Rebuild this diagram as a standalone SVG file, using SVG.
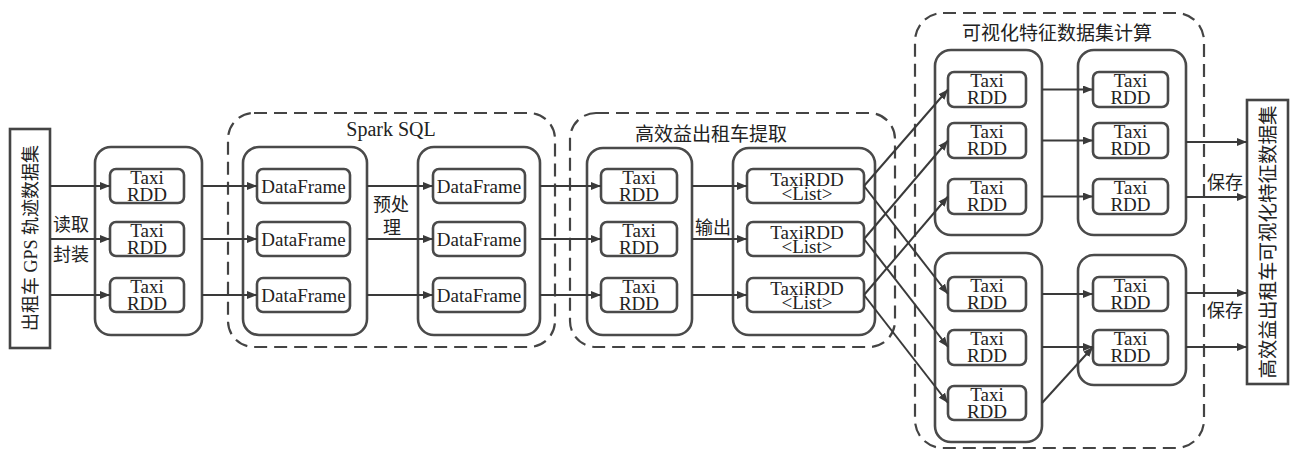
<svg xmlns="http://www.w3.org/2000/svg" width="1290" height="450" viewBox="0 0 1290 450">
<style>
.bg{fill:#ffffff}
.dash{fill:none;stroke:#444;stroke-width:2.2;stroke-dasharray:13 7}
.outer{fill:none;stroke:#4a4a4a;stroke-width:2.6}
.inner{fill:#fff;stroke:#4a4a4a;stroke-width:2.6}
.io{fill:#fff;stroke:#444;stroke-width:2.6}
.t{font-family:"Liberation Serif","Noto Sans CJK SC",serif;font-size:19px;fill:#222;text-anchor:middle}
.c{font-family:"Liberation Serif","Noto Sans CJK SC",serif;font-size:18px;fill:#222;text-anchor:middle}
.ttl{font-family:"Liberation Serif","Noto Sans CJK SC",serif;font-size:19px;fill:#222;text-anchor:middle}
.e{fill:none;stroke:#3a3a3a;stroke-width:2;marker-end:url(#ah)}
</style>
<defs>
<marker id="ah" markerUnits="userSpaceOnUse" markerWidth="10" markerHeight="8" refX="10" refY="4" orient="auto">
<path d="M0,0 L10,4 L0,8 z" fill="#3a3a3a"/>
</marker>
</defs>
<rect class="bg" x="0" y="0" width="1290" height="450"/>

<!-- dashed containers -->
<g id="spark-sql">
<rect class="dash" x="228" y="113" width="327" height="234" rx="26"/>
<text class="ttl" x="391" y="136" style="font-size:20px">Spark SQL</text>
</g>
<g id="extract">
<rect class="dash" x="570" y="113" width="325" height="234" rx="26"/>
<text class="ttl" x="711" y="141">高效益出租车提取</text>
</g>
<g id="visual">
<rect class="dash" x="915" y="13" width="289" height="435" rx="28"/>
<text class="ttl" x="1057" y="40">可视化特征数据集计算</text>
</g>

<!-- source / sink -->
<g id="source">
<rect class="io" x="10" y="129" width="40" height="219"/>
<text class="c" transform="translate(31,238) rotate(-90)" dominant-baseline="central">出租车 GPS 轨迹数据集</text>
</g>
<g id="sink">
<rect class="io" x="1247" y="100" width="41" height="284"/>
<text class="c" transform="translate(1268,242) rotate(-90)" dominant-baseline="central" style="font-size:19.5px">高效益出租车可视化特征数据集</text>
</g>

<!-- group 1: Taxi RDD -->
<g id="g1">
<rect class="outer" x="95" y="147" width="107" height="188" rx="16"/>
<rect class="inner" x="110" y="169" width="74" height="34" rx="6"/>
<text class="t" x="147" y="184">Taxi</text><text class="t" x="147" y="201">RDD</text>
<rect class="inner" x="110" y="222" width="74" height="34" rx="6"/>
<text class="t" x="147" y="237">Taxi</text><text class="t" x="147" y="254">RDD</text>
<rect class="inner" x="110" y="278" width="74" height="34" rx="6"/>
<text class="t" x="147" y="293">Taxi</text><text class="t" x="147" y="310">RDD</text>
</g>

<!-- group 2: DataFrame -->
<g id="g2">
<rect class="outer" x="243" y="147" width="124" height="188" rx="16"/>
<rect class="inner" x="257" y="169" width="93" height="34" rx="6"/>
<text class="t" x="303.5" y="193">DataFrame</text>
<rect class="inner" x="257" y="222" width="93" height="34" rx="6"/>
<text class="t" x="303.5" y="246">DataFrame</text>
<rect class="inner" x="257" y="278" width="93" height="34" rx="6"/>
<text class="t" x="303.5" y="302">DataFrame</text>
</g>

<!-- group 3: DataFrame -->
<g id="g3">
<rect class="outer" x="418" y="147" width="122" height="188" rx="16"/>
<rect class="inner" x="433" y="169" width="92" height="34" rx="6"/>
<text class="t" x="479" y="193">DataFrame</text>
<rect class="inner" x="433" y="222" width="92" height="34" rx="6"/>
<text class="t" x="479" y="246">DataFrame</text>
<rect class="inner" x="433" y="278" width="92" height="34" rx="6"/>
<text class="t" x="479" y="302">DataFrame</text>
</g>

<!-- group 4: Taxi RDD -->
<g id="g4">
<rect class="outer" x="587" y="148" width="105" height="187" rx="16"/>
<rect class="inner" x="601" y="169" width="76" height="34" rx="6"/>
<text class="t" x="639" y="184">Taxi</text><text class="t" x="639" y="201">RDD</text>
<rect class="inner" x="601" y="222" width="76" height="34" rx="6"/>
<text class="t" x="639" y="237">Taxi</text><text class="t" x="639" y="254">RDD</text>
<rect class="inner" x="601" y="278" width="76" height="34" rx="6"/>
<text class="t" x="639" y="293">Taxi</text><text class="t" x="639" y="310">RDD</text>
</g>

<!-- group 5: TaxiRDD<List> -->
<g id="g5">
<rect class="outer" x="733" y="148" width="142" height="187" rx="16"/>
<rect class="inner" x="747" y="169" width="117" height="34" rx="6"/>
<text class="t" x="807" y="186">TaxiRDD</text><text class="t" x="807" y="200">&lt;List&gt;</text>
<rect class="inner" x="747" y="222" width="117" height="34" rx="6"/>
<text class="t" x="807" y="239">TaxiRDD</text><text class="t" x="807" y="253">&lt;List&gt;</text>
<rect class="inner" x="747" y="278" width="117" height="34" rx="6"/>
<text class="t" x="807" y="295">TaxiRDD</text><text class="t" x="807" y="309">&lt;List&gt;</text>
</g>

<!-- group 6: top-left -->
<g id="g6">
<rect class="outer" x="935" y="50" width="107" height="185" rx="16"/>
<rect class="inner" x="948" y="72" width="78" height="35" rx="6"/>
<text class="t" x="987" y="87">Taxi</text><text class="t" x="987" y="104">RDD</text>
<rect class="inner" x="948" y="123" width="78" height="35" rx="6"/>
<text class="t" x="987" y="138">Taxi</text><text class="t" x="987" y="155">RDD</text>
<rect class="inner" x="948" y="179" width="78" height="35" rx="6"/>
<text class="t" x="987" y="194">Taxi</text><text class="t" x="987" y="211">RDD</text>
</g>

<!-- group 7: top-right -->
<g id="g7">
<rect class="outer" x="1078" y="50" width="108" height="185" rx="16"/>
<rect class="inner" x="1093" y="72" width="75" height="35" rx="6"/>
<text class="t" x="1130.5" y="87">Taxi</text><text class="t" x="1130.5" y="104">RDD</text>
<rect class="inner" x="1093" y="123" width="75" height="35" rx="6"/>
<text class="t" x="1130.5" y="138">Taxi</text><text class="t" x="1130.5" y="155">RDD</text>
<rect class="inner" x="1093" y="179" width="75" height="35" rx="6"/>
<text class="t" x="1130.5" y="194">Taxi</text><text class="t" x="1130.5" y="211">RDD</text>
</g>

<!-- group 8: bottom-left -->
<g id="g8">
<rect class="outer" x="935" y="253" width="107" height="189" rx="16"/>
<rect class="inner" x="948" y="277" width="78" height="34" rx="6"/>
<text class="t" x="987" y="292">Taxi</text><text class="t" x="987" y="309">RDD</text>
<rect class="inner" x="948" y="330" width="78" height="35" rx="6"/>
<text class="t" x="987" y="345">Taxi</text><text class="t" x="987" y="362">RDD</text>
<rect class="inner" x="948" y="386" width="78" height="34" rx="6"/>
<text class="t" x="987" y="401">Taxi</text><text class="t" x="987" y="418">RDD</text>
</g>

<!-- group 9: bottom-right -->
<g id="g9">
<rect class="outer" x="1078" y="255" width="108" height="130" rx="16"/>
<rect class="inner" x="1093" y="277" width="75" height="34" rx="6"/>
<text class="t" x="1130.5" y="292">Taxi</text><text class="t" x="1130.5" y="309">RDD</text>
<rect class="inner" x="1093" y="330" width="75" height="35" rx="6"/>
<text class="t" x="1130.5" y="345">Taxi</text><text class="t" x="1130.5" y="362">RDD</text>
</g>

<!-- connectors -->
<g id="connectors">
<path class="e" d="M50,186 H110"/>
<path class="e" d="M50,239 H110"/>
<path class="e" d="M50,295 H110"/>
<path class="e" d="M202,186 H257"/>
<path class="e" d="M202,239 H257"/>
<path class="e" d="M202,295 H257"/>
<path class="e" d="M367,186 H433"/>
<path class="e" d="M367,239 H433"/>
<path class="e" d="M367,295 H433"/>
<path class="e" d="M540,186 H601"/>
<path class="e" d="M540,239 H601"/>
<path class="e" d="M540,295 H601"/>
<path class="e" d="M692,186 H747"/>
<path class="e" d="M692,239 H747"/>
<path class="e" d="M692,295 H747"/>
<path class="e" d="M864,186 L948,89.5"/>
<path class="e" d="M864,239 L948,140.5"/>
<path class="e" d="M864,295 L948,196.5"/>
<path class="e" d="M864,186 L948,294"/>
<path class="e" d="M864,239 L948,347"/>
<path class="e" d="M864,295 L948,403"/>
<path class="e" d="M1042,89.5 H1093"/>
<path class="e" d="M1042,140.5 H1093"/>
<path class="e" d="M1042,196.5 H1093"/>
<path class="e" d="M1042,294 H1093"/>
<path class="e" d="M1042,347 H1093"/>
<path class="e" d="M1042,403 L1093,347"/>
<path class="e" d="M1186,142 H1247"/>
<path class="e" d="M1186,197 H1247"/>
<path class="e" d="M1186,293 H1247"/>
<path class="e" d="M1186,347 H1247"/>
</g>

<!-- edge labels -->
<g id="labels">
<text class="c" x="71" y="231">读取</text>
<text class="c" x="71" y="261">封装</text>
<text class="c" x="391" y="211">预处</text>
<text class="c" x="392" y="234">理</text>
<text class="c" x="713" y="234">输出</text>
<text class="c" x="1225" y="189">保存</text>
<text class="c" x="1225" y="317">保存</text>
</g>
</svg>
